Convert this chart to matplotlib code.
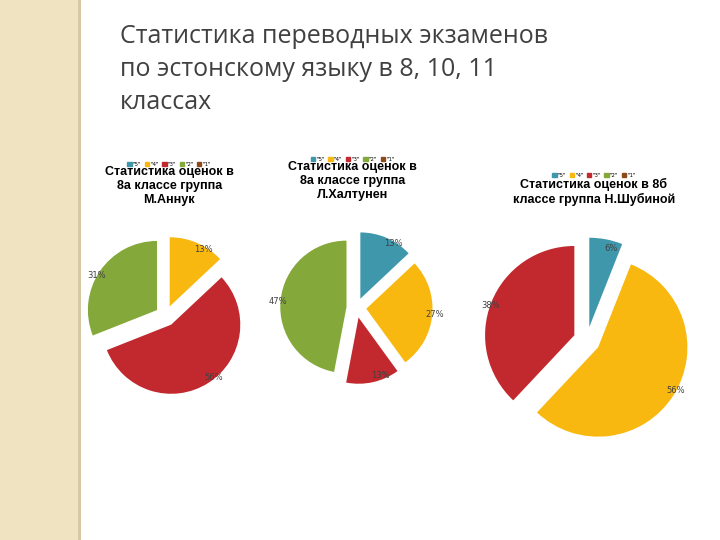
import matplotlib.pyplot as plt
from matplotlib.patches import Rectangle

grades = ['"5"', '"4"', '"3"', '"2"', '"1"']
colors = ['#3f97ab', '#f8b80f', '#c1292e', '#84a93a', '#8c4a1c']

vals_1 = [0, 13, 56, 31, 0]
vals_2 = [13, 27, 13, 47, 0]
vals_3 = [6, 56, 38, 0, 0]

titles = ['Статистика оценок в\n8а классе группа\nМ.Аннук',
          'Статистика оценок в\n8а классе группа\nЛ.Халтунен',
          'Статистика оценок в 8б\nклассе группа Н.Шубиной']

fig = plt.figure(figsize=(7.2, 5.4), dpi=100)
fig.patch.set_facecolor('white')
# beige side strip
fig.patches.append(Rectangle((0, 0), 0.108, 1, transform=fig.transFigure,
                             facecolor='#efe3c2', edgecolor='none'))
fig.patches.append(Rectangle((0.108, 0), 0.004, 1, transform=fig.transFigure,
                             facecolor='#d8c9a4', edgecolor='none'))

fig.text(0.167, 0.955, 'Статистика переводных экзаменов\nпо эстонскому языку в 8, 10, 11\nклассах',
         fontsize=18, color='#404040', va='top', linespacing=1.4, family='Open Sans')

boxes = [(0.11, 0.25, 0.24, 0.33), (0.38, 0.27, 0.23, 0.32), (0.66, 0.16, 0.31, 0.42)]
title_pos = [(0.235, 0.655), (0.49, 0.665), (0.825, 0.645)]
legend_y = [0.695, 0.705, 0.675]

for vals, box, title, tp, ly in zip([vals_1, vals_2, vals_3], boxes, titles, title_pos, legend_y):
    ax = fig.add_axes(box)
    vs = [v for v in vals if v]
    cs = [c for v, c in zip(vals, colors) if v]
    wedges, texts = ax.pie(vs, colors=cs, startangle=90, counterclock=False,
                           explode=[0.15] * len(vs), labels=['%d%%' % v for v in vs],
                           labeldistance=0.9, textprops={'fontsize': 6, 'color': '#404040'})
    ax.set_aspect('equal')
    fig.text(tp[0], tp[1], title, ha='center', va='center', fontsize=9,
             fontweight='bold', family='Liberation Sans')
    handles = [Rectangle((0, 0), 1, 1, color=c) for c in colors]
    fig.legend(handles, grades, loc='center', bbox_to_anchor=(tp[0], ly),
               ncol=5, fontsize=4, frameon=False, handlelength=0.8, handleheight=0.8,
               columnspacing=0.6, handletextpad=0.2)

plt.savefig('out.png', dpi=100)
